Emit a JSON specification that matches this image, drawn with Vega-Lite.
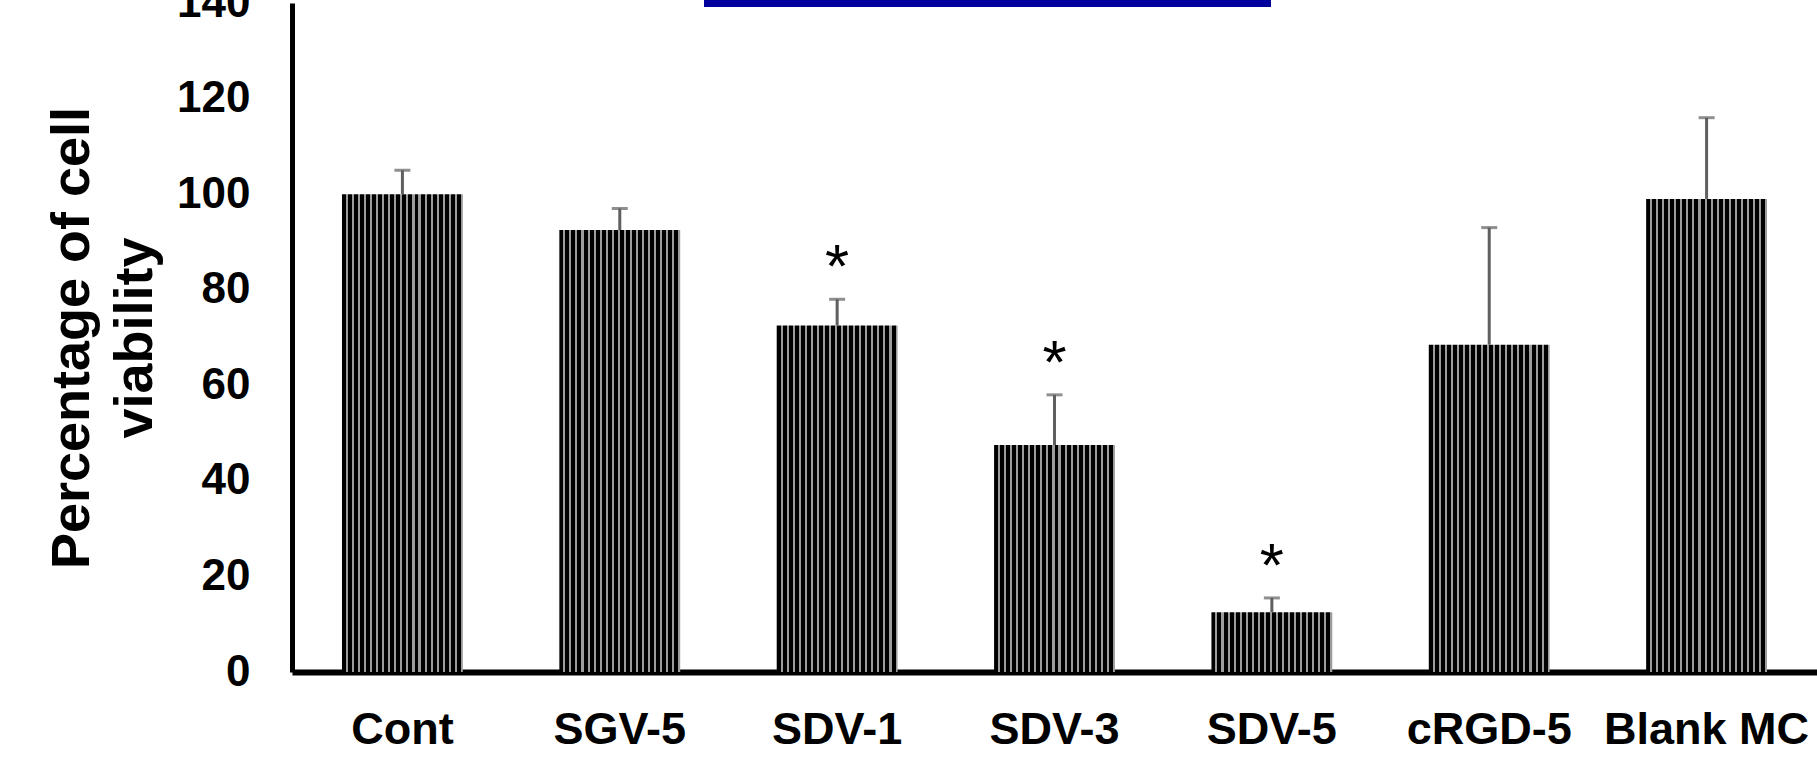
{
  "$schema": "https://vega.github.io/schema/vega-lite/v6.json",
  "width": 1525,
  "height": 669,
  "autosize": {"type": "none"},
  "padding": {"left": 292, "top": 3, "right": 0, "bottom": 86},
  "background": "white",
  "config": {
    "view": {"stroke": null},
    "font": "Liberation Sans"
  },
  "data": {
    "values": [
      {"group": "Cont", "viability": 100, "upper": 105, "sig": ""},
      {"group": "SGV-5", "viability": 92.5, "upper": 97, "sig": ""},
      {"group": "SDV-1", "viability": 72.5, "upper": 78, "sig": "*"},
      {"group": "SDV-3", "viability": 47.5, "upper": 58, "sig": "*"},
      {"group": "SDV-5", "viability": 12.5, "upper": 15.5, "sig": "*"},
      {"group": "cRGD-5", "viability": 68.5, "upper": 93, "sig": ""},
      {"group": "Blank MC", "viability": 99, "upper": 116, "sig": ""}
    ]
  },
  "encoding": {
    "x": {
      "field": "group",
      "type": "nominal",
      "sort": null,
      "scale": {"paddingInner": 0.444, "paddingOuter": 0.23},
      "axis": {
        "title": null,
        "labelAngle": 0,
        "labelFont": "Liberation Sans",
        "labelFontWeight": "bold",
        "labelFontSize": 45,
        "labelColor": "#000000",
        "labelPadding": 35,
        "labelLimit": 0,
        "ticks": false,
        "domainColor": "#000000",
        "domainWidth": 6,
        "labelOverlap": false
      }
    }
  },
  "layer": [
    {
      "mark": {
        "type": "bar",
        "fill": {
          "gradient": "linear",
          "x1": 0, "x2": 1, "y1": 0, "y2": 0,
          "stops": [
            {"offset": 0, "color": "#000000"}, {"offset": 0.033, "color": "#000000"}, {"offset": 0.033, "color": "#9c9c9c"}, {"offset": 0.05, "color": "#9c9c9c"},
            {"offset": 0.05, "color": "#000000"}, {"offset": 0.083, "color": "#000000"}, {"offset": 0.083, "color": "#9c9c9c"}, {"offset": 0.1, "color": "#9c9c9c"},
            {"offset": 0.1, "color": "#000000"}, {"offset": 0.133, "color": "#000000"}, {"offset": 0.133, "color": "#9c9c9c"}, {"offset": 0.15, "color": "#9c9c9c"},
            {"offset": 0.15, "color": "#000000"}, {"offset": 0.183, "color": "#000000"}, {"offset": 0.183, "color": "#9c9c9c"}, {"offset": 0.2, "color": "#9c9c9c"},
            {"offset": 0.2, "color": "#000000"}, {"offset": 0.233, "color": "#000000"}, {"offset": 0.233, "color": "#9c9c9c"}, {"offset": 0.25, "color": "#9c9c9c"},
            {"offset": 0.25, "color": "#000000"}, {"offset": 0.283, "color": "#000000"}, {"offset": 0.283, "color": "#9c9c9c"}, {"offset": 0.3, "color": "#9c9c9c"},
            {"offset": 0.3, "color": "#000000"}, {"offset": 0.333, "color": "#000000"}, {"offset": 0.333, "color": "#9c9c9c"}, {"offset": 0.35, "color": "#9c9c9c"},
            {"offset": 0.35, "color": "#000000"}, {"offset": 0.383, "color": "#000000"}, {"offset": 0.383, "color": "#9c9c9c"}, {"offset": 0.4, "color": "#9c9c9c"},
            {"offset": 0.4, "color": "#000000"}, {"offset": 0.433, "color": "#000000"}, {"offset": 0.433, "color": "#9c9c9c"}, {"offset": 0.45, "color": "#9c9c9c"},
            {"offset": 0.45, "color": "#000000"}, {"offset": 0.483, "color": "#000000"}, {"offset": 0.483, "color": "#9c9c9c"}, {"offset": 0.5, "color": "#9c9c9c"},
            {"offset": 0.5, "color": "#000000"}, {"offset": 0.533, "color": "#000000"}, {"offset": 0.533, "color": "#9c9c9c"}, {"offset": 0.55, "color": "#9c9c9c"},
            {"offset": 0.55, "color": "#000000"}, {"offset": 0.583, "color": "#000000"}, {"offset": 0.583, "color": "#9c9c9c"}, {"offset": 0.6, "color": "#9c9c9c"},
            {"offset": 0.6, "color": "#000000"}, {"offset": 0.633, "color": "#000000"}, {"offset": 0.633, "color": "#9c9c9c"}, {"offset": 0.65, "color": "#9c9c9c"},
            {"offset": 0.65, "color": "#000000"}, {"offset": 0.683, "color": "#000000"}, {"offset": 0.683, "color": "#9c9c9c"}, {"offset": 0.7, "color": "#9c9c9c"},
            {"offset": 0.7, "color": "#000000"}, {"offset": 0.733, "color": "#000000"}, {"offset": 0.733, "color": "#9c9c9c"}, {"offset": 0.75, "color": "#9c9c9c"},
            {"offset": 0.75, "color": "#000000"}, {"offset": 0.783, "color": "#000000"}, {"offset": 0.783, "color": "#9c9c9c"}, {"offset": 0.8, "color": "#9c9c9c"},
            {"offset": 0.8, "color": "#000000"}, {"offset": 0.833, "color": "#000000"}, {"offset": 0.833, "color": "#9c9c9c"}, {"offset": 0.85, "color": "#9c9c9c"},
            {"offset": 0.85, "color": "#000000"}, {"offset": 0.883, "color": "#000000"}, {"offset": 0.883, "color": "#9c9c9c"}, {"offset": 0.9, "color": "#9c9c9c"},
            {"offset": 0.9, "color": "#000000"}, {"offset": 0.933, "color": "#000000"}, {"offset": 0.933, "color": "#9c9c9c"}, {"offset": 0.95, "color": "#9c9c9c"},
            {"offset": 0.95, "color": "#000000"}, {"offset": 0.983, "color": "#000000"}, {"offset": 0.983, "color": "#9c9c9c"}, {"offset": 1, "color": "#9c9c9c"}
          ]
        }
      },
      "encoding": {
        "y": {
          "field": "viability",
          "type": "quantitative",
          "scale": {"domain": [0, 140], "nice": false, "zero": true},
          "axis": {
            "title": ["Percentage of cell", "viability"],
            "titleFont": "Liberation Sans",
            "titleFontWeight": "bold",
            "titleFontSize": 54,
            "titleLineHeight": 63,
            "titleColor": "#000000",
            "titlePadding": 14,
            "values": [0, 20, 40, 60, 80, 100, 120, 140],
            "labelFont": "Liberation Sans",
            "labelFontWeight": "bold",
            "labelFontSize": 44,
            "labelColor": "#000000",
            "labelPadding": 42,
            "labelOverlap": false,
            "labelFlush": false,
            "ticks": false,
            "grid": false,
            "domainColor": "#000000",
            "domainWidth": 5
          }
        }
      }
    },
    {
      "mark": {"type": "rule", "color": "#5f5f5f", "strokeWidth": 3},
      "encoding": {
        "y": {"field": "viability", "type": "quantitative"},
        "y2": {"field": "upper"}
      }
    },
    {
      "mark": {"type": "tick", "color": "#5f5f5f", "orient": "horizontal", "size": 16, "thickness": 3},
      "encoding": {
        "y": {"field": "upper", "type": "quantitative"}
      }
    },
    {
      "mark": {"type": "text", "font": "Liberation Sans", "fontSize": 62, "fontWeight": "normal", "color": "#000000", "baseline": "alphabetic", "dy": -12},
      "encoding": {
        "y": {"field": "upper", "type": "quantitative"},
        "text": {"field": "sig"}
      }
    },
    {
      "mark": {"type": "rect", "color": "#00009c", "clip": false, "xOffset": -133, "x2Offset": -1},
      "encoding": {
        "x": {"datum": "SDV-1"},
        "x2": {"datum": "SDV-5"},
        "y": {"datum": 141},
        "y2": {"datum": 139.2}
      }
    }
  ]
}
